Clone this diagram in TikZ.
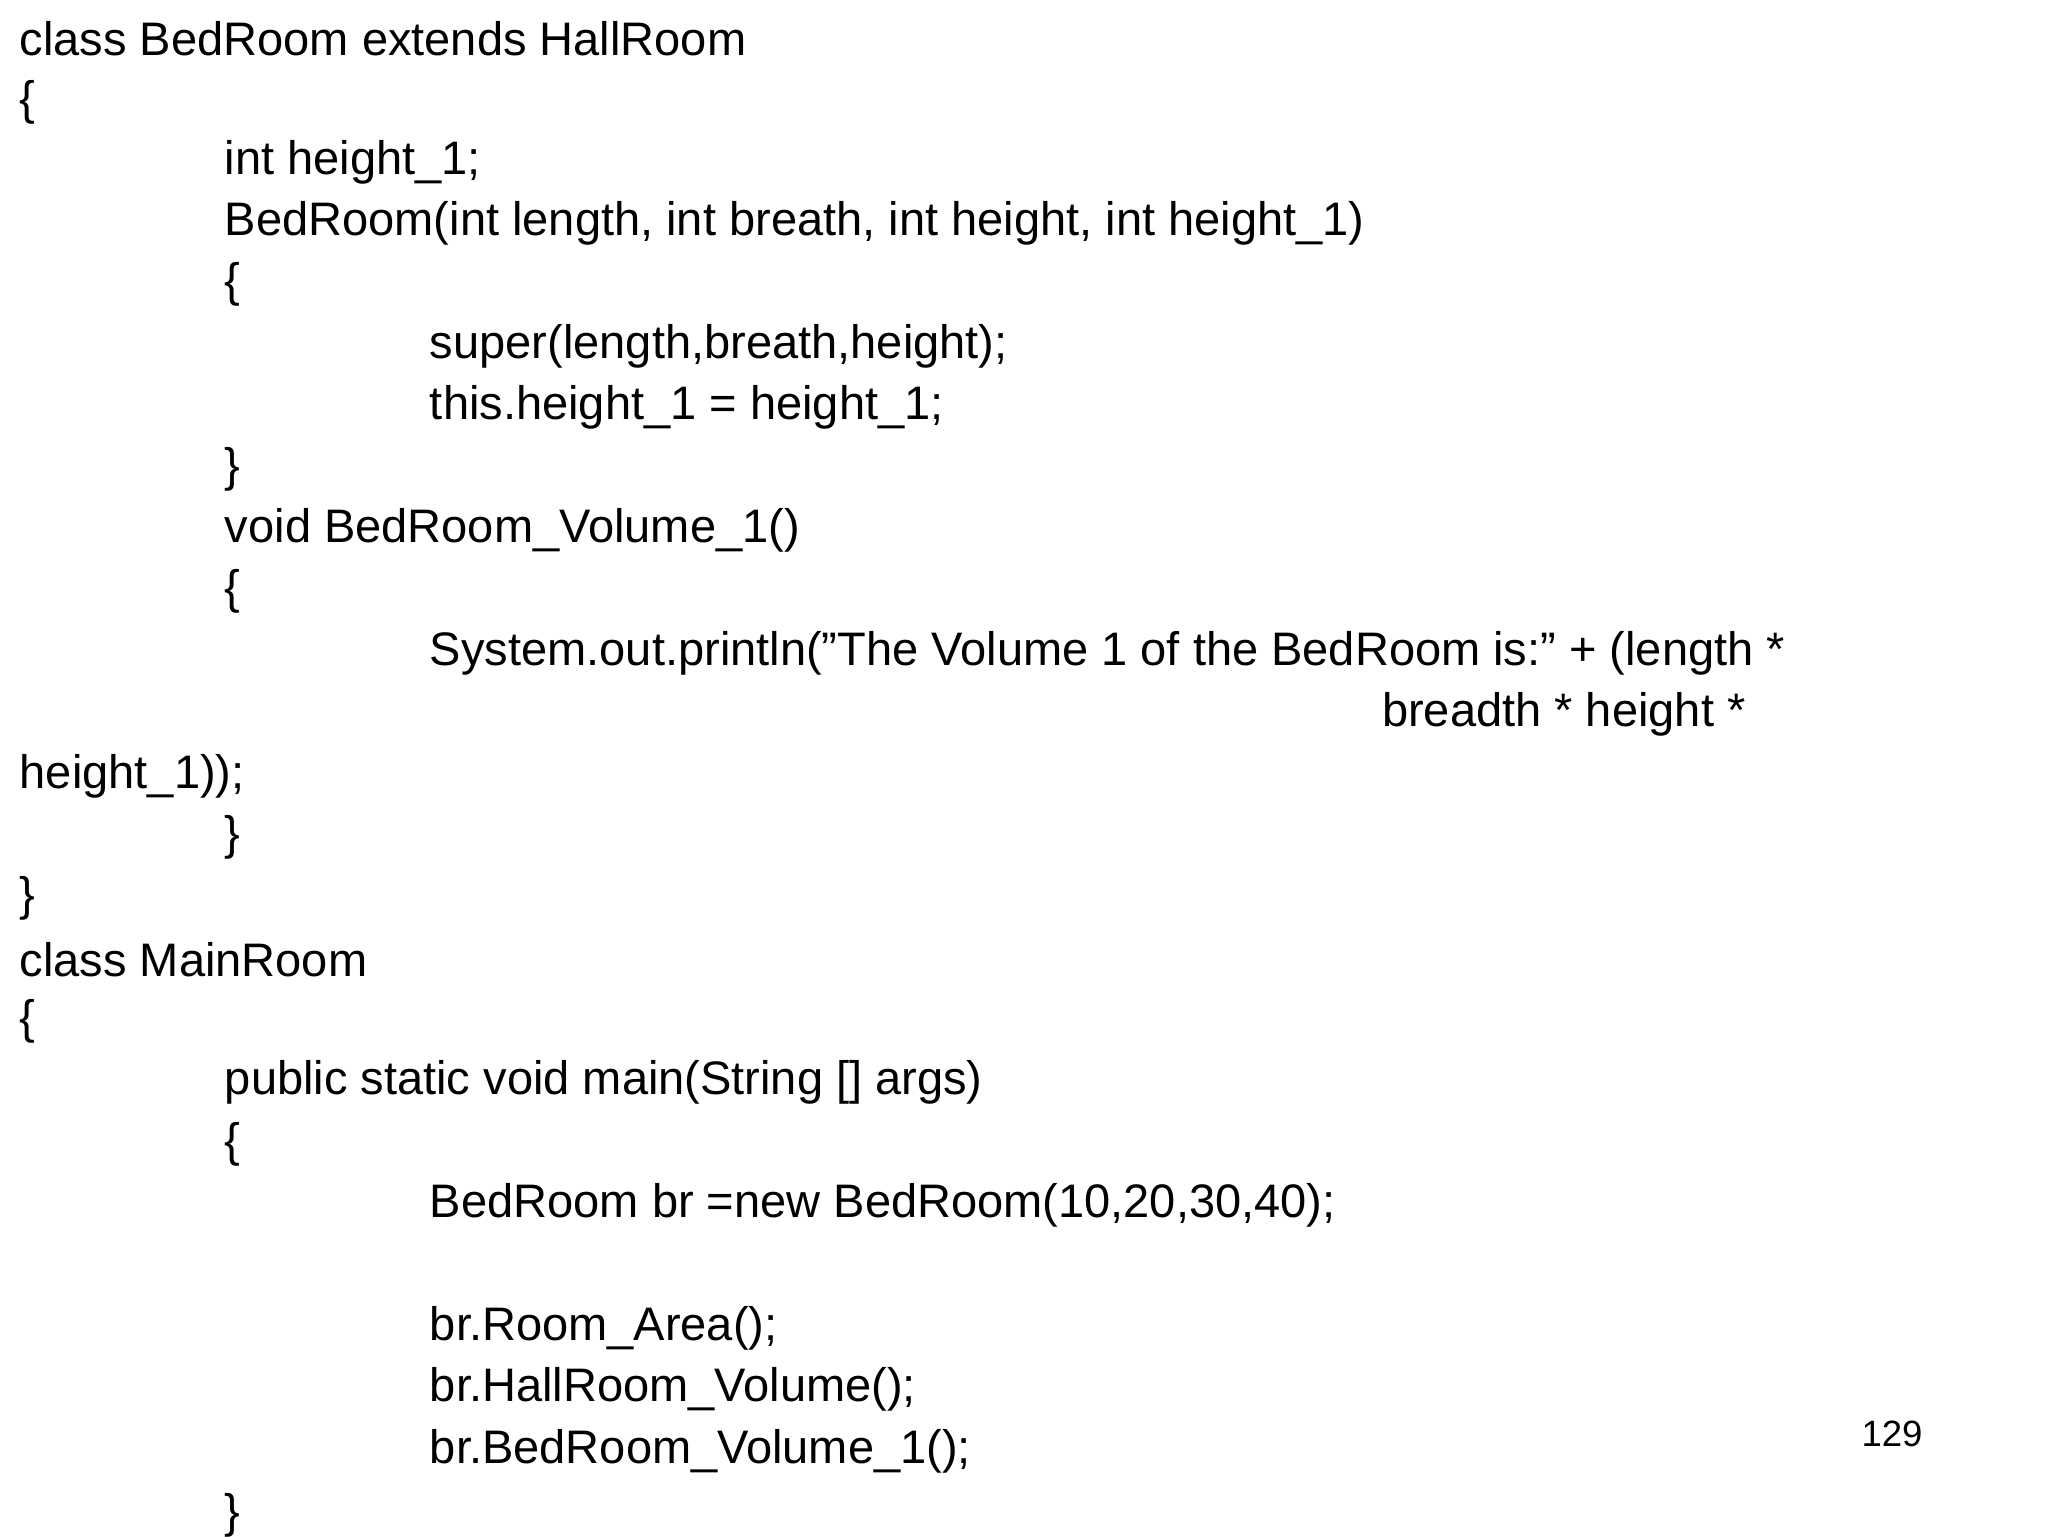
\documentclass[tikz,border=0pt]{standalone}
\usepackage{fontspec}
\setmainfont{Liberation Sans}
\begin{document}
\begin{tikzpicture}[x=1pt,y=-1pt,code/.style={anchor=west,inner sep=0pt,font=\fontsize{36}{40}\selectfont}]
\useasboundingbox[fill=white] (0,0) rectangle (1568,1176);
\node[code] (l1) at (15,30) {class BedRoom extends HallRoom};
\node[code] (l2) at (15,78) {\{};
\node[code] (l3) at (172,124) {int height\_1;};
\node[code] (l4) at (172,171) {BedRoom(int length, int breath, int height, int height\_1)};
\node[code] (l5) at (172,218) {\{};
\node[code] (l6) at (329,265) {super(length,breath,height);};
\node[code] (l7) at (329,312) {this.height\_1 = height\_1;};
\node[code] (l8) at (172,359) {\}};
\node[code] (l9) at (172,406) {void BedRoom\_Volume\_1()};
\node[code] (l10) at (172,453) {\{};
\node[code] (l11) at (329,500) {System.out.println("The Volume 1 of the BedRoom is:" + (length *};
\node[code] (l12) at (1058,547) {breadth * height *};
\node[code] (l13) at (15,594) {height\_1));};
\node[code] (l14) at (172,641) {\}};
\node[code] (l15) at (15,688) {\}};
\node[code] (l16) at (15,735) {class MainRoom};
\node[code] (l17) at (15,782) {\{};
\node[code] (l18) at (172,829) {public static void main(String [] args)};
\node[code] (l19) at (172,876) {\{};
\node[code] (l20) at (329,923) {BedRoom br =new BedRoom(10,20,30,40);};
\node[code] (l21) at (329,1017) {br.Room\_Area();};
\node[code] (l22) at (329,1064) {br.HallRoom\_Volume();};
\node[code] (l23) at (329,1111) {br.BedRoom\_Volume\_1();};
\node[code] (l24) at (172,1160) {\}};
\node[anchor=west,inner sep=0pt,font=\fontsize{28}{32}\selectfont] (pg) at (1425,1098) {129};
\end{tikzpicture}
\end{document}
